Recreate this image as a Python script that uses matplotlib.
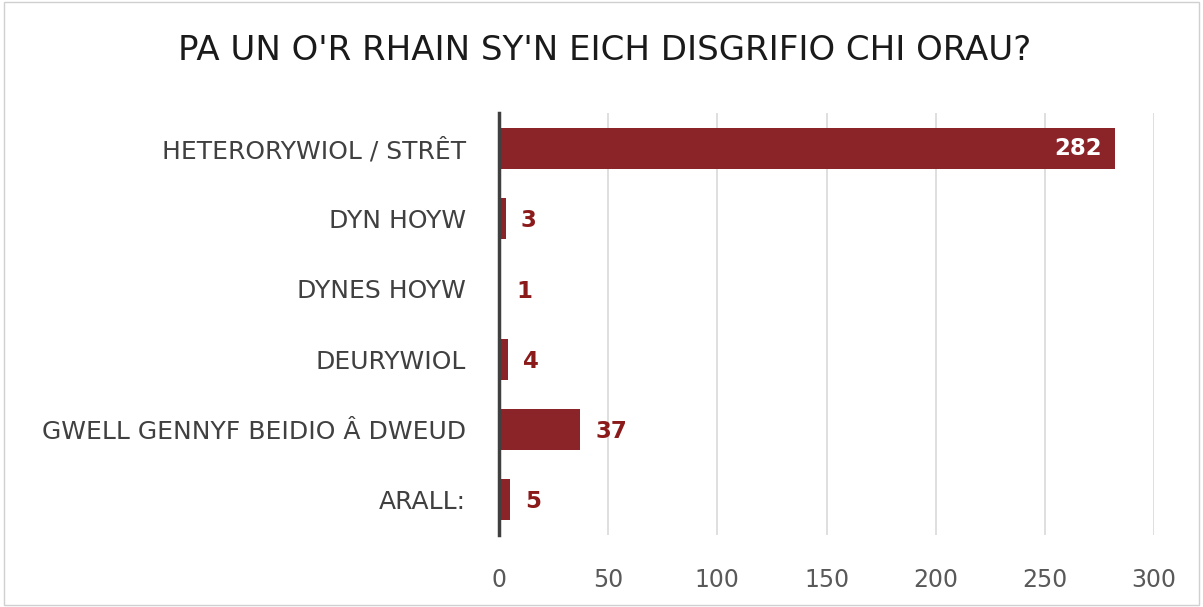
import matplotlib.pyplot as plt
from matplotlib.patches import Rectangle

categories = ["HETERORYWIOL / STRÊT", "DYN HOYW", "DYNES HOYW", "DEURYWIOL",
              "GWELL GENNYF BEIDIO Â DWEUD", "ARALL:"]
counts = [282, 3, 1, 4, 37, 5]
xticks = [0, 50, 100, 150, 200, 250, 300]
title = "PA UN O'R RHAIN SY'N EICH DISGRIFIO CHI ORAU?"

bar_color = "#8B2429"
label_color = "#8B1A1A"

plt.rcParams['font.family'] = ['DejaVu Sans']

fig = plt.figure(figsize=(12.03, 6.07), dpi=100)
fig.patches.append(Rectangle((0.003, 0.003), 0.994, 0.994, transform=fig.transFigure,
                             fill=False, edgecolor="#d0d0d0", linewidth=1))
ax = fig.add_axes([0.4148, 0.1186, 0.5445, 0.695])

y = list(range(len(categories)))
ax.barh(y, counts, height=0.58, color=bar_color, zorder=3)
ax.set_ylim(len(categories) - 0.5, -0.5)
ax.set_xlim(0, 300)
ax.set_xticks(xticks)
ax.set_yticks(y)
ax.set_yticklabels(categories, fontsize=18, color="#404040")
ax.tick_params(axis='y', length=0, pad=24)
ax.tick_params(axis='x', length=0, pad=24, labelsize=17, labelcolor="#595959")
ax.grid(axis='x', color="#d9d9d9", linewidth=1.2, zorder=0)

for s in ['top', 'right', 'bottom']:
    ax.spines[s].set_visible(False)
ax.spines['left'].set_color("#404040")
ax.spines['left'].set_linewidth(2.5)
ax.spines['left'].set_zorder(4)

for yi, v in zip(y, counts):
    if v > 200:
        ax.text(v - 6, yi, str(v), ha='right', va='center', color='white',
                fontsize=16.5, fontweight='bold', zorder=5)
    else:
        ax.text(v + 7, yi + 0.03, str(v), ha='left', va='center', color=label_color,
                fontsize=16.5, fontweight='bold', zorder=5)

fig.text(0.503, 0.917, title, ha='center', va='center', fontsize=24.5, color="#1a1a1a")

fig.savefig("out.png", dpi=100)
